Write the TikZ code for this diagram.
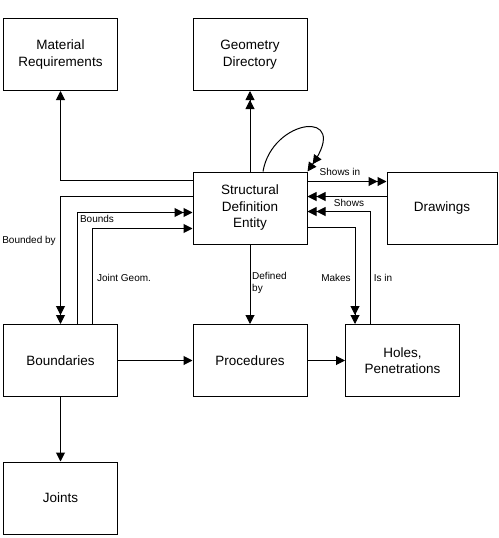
\documentclass[tikz,border=0pt]{standalone}
\usepackage{fontspec}
\setmainfont{Liberation Sans}
\usetikzlibrary{arrows.meta}
\begin{document}
\begin{tikzpicture}[x=1pt,y=-1pt,
  box/.style={draw,line width=1pt,minimum width=114pt,minimum height=72pt,align=center,inner sep=0pt,font=\fontsize{13.5}{16.5}\selectfont},
  lbl/.style={inner sep=0pt,font=\fontsize{10}{11.5}\selectfont,align=left},
  conn/.style={line width=1pt},
  one/.style={conn,-{Triangle[length=9pt,width=9pt]}},
  two/.style={conn,-{Triangle[length=9pt,width=9pt]Triangle[length=9pt,width=9pt]}}]
\useasboundingbox (0,0) rectangle (498,538);
\node[box] (mat) at (60.5,54.5) {Material\\Requirements};
\node[box] (geo) at (250,54.5) {Geometry\\Directory};
\node[box] (sde) at (250,208) {Structural\\Definition\\Entity};
\node[box,minimum width=110pt] (drw) at (442,208) {Drawings};
\node[box] (bnd) at (60.5,360.5) {Boundaries};
\node[box] (pro) at (250,360.5) {Procedures};
\node[box] (hol) at (402.5,360.5) {Holes,\\Penetrations};
\node[box] (jnt) at (60.5,498) {Joints};
% top
\draw[one] ([yshift=-9pt]sde.north west) -| (mat.south);
\draw[two] (sde.north) -- (geo.south);
\draw[two] ([xshift=13pt]sde.north) .. controls (272,118) and (352,108) .. (sde.north east);
% right
\draw[two] ([yshift=-10pt]sde.north east) -- ([yshift=-10pt]drw.north west);
\draw[two] ([yshift=-25pt]drw.north west) -- ([yshift=-25pt]sde.north east);
\draw[two] ([xshift=-32.5pt]hol.north) |- ([yshift=-40pt]sde.north east);
\draw[two] ([yshift=-56pt]sde.north east) -| ([xshift=-47.5pt]hol.north);
\node[lbl] (l1) at (340,172) {Shows in};
\node[lbl] (l2) at (349,203) {Shows};
\node[lbl] (l3) at (336,278) {Makes};
\node[lbl] (l4) at (383,278) {Is in};
% middle
\draw[one] (sde.south) -- (pro.north);
\node[lbl,anchor=west] (l5) at (252,283) {Defined\\by};
% left
\draw[two] ([yshift=-25pt]sde.north west) -| (bnd.north);
\draw[two] ([xshift=16.5pt]bnd.north) |- ([yshift=-41pt]sde.north west);
\draw[one] ([xshift=31.5pt]bnd.north) |- ([yshift=-57pt]sde.north west);
\node[lbl] (l6) at (29,241) {Bounded by};
\node[lbl] (l7) at (97,219) {Bounds};
\node[lbl] (l8) at (124,278) {Joint Geom.};
% bottom
\draw[one] (bnd) -- (pro);
\draw[one] (pro) -- (hol);
\draw[one] (bnd) -- (jnt);
\end{tikzpicture}
\end{document}
